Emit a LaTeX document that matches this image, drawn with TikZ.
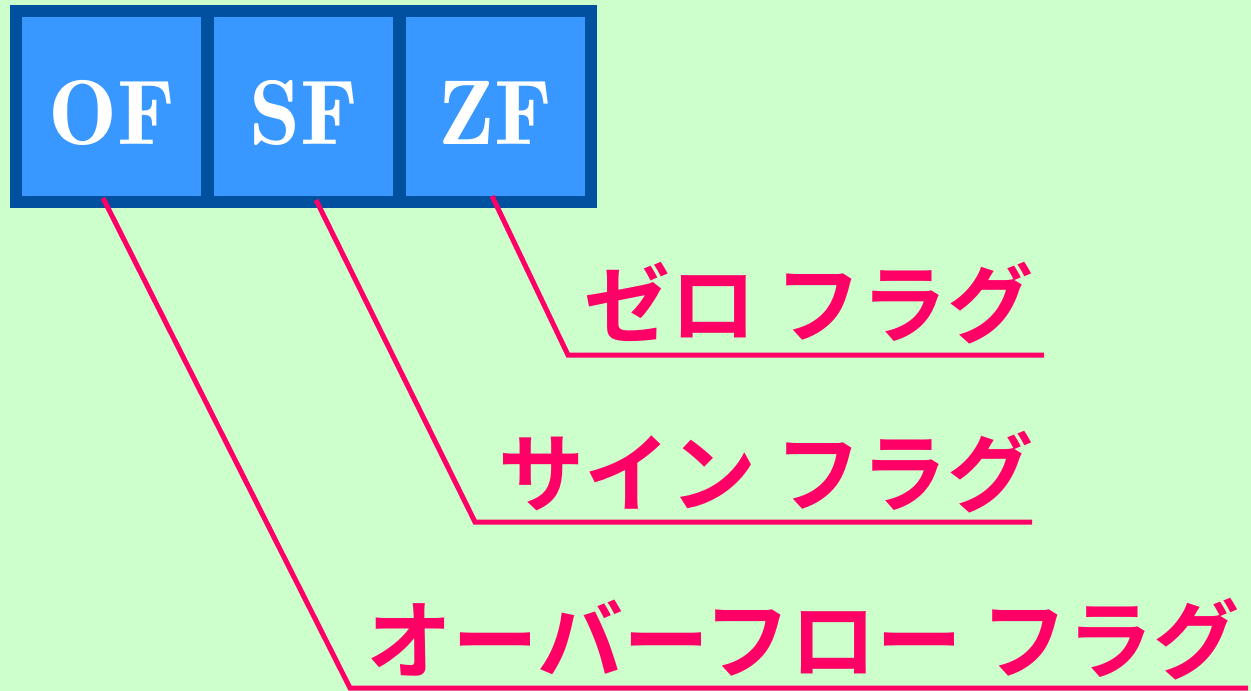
\documentclass[tikz,border=0pt]{standalone}
\usepackage{fontspec}
\newfontfamily\jpfont{Noto Sans CJK JP}[BoldFont={* Bold}]
\newfontfamily\demifont{lmromandemi10-regular.otf}
\usetikzlibrary{calc}
\definecolor{bggreen}{HTML}{CCFFCC}
\definecolor{cellblue}{HTML}{3898FF}
\definecolor{celledge}{HTML}{0050A0}
\definecolor{flagpink}{HTML}{FF0066}
\tikzset{
  cell/.style={draw=celledge, fill=cellblue, line width=12pt, minimum width=191pt, minimum height=191pt,
    inner sep=0pt, text=white, text height=76pt, text depth=0pt,
    font=\demifont\fontsize{92}{92}\selectfont},
  flaglabel/.style={anchor=base west, inner sep=0pt, text=flagpink, font=\jpfont\bfseries\fontsize{86}{86}\selectfont},
  leader/.style={draw=flagpink, line width=5pt, line join=miter}
}
\begin{document}
\begin{tikzpicture}[x=1pt,y=-1pt]
\fill[bggreen] (0,0) rectangle (1251,691);
\useasboundingbox (0,0) rectangle (1251,691);
\node[cell] (of) at (111.5,106.5) {OF};
\node[cell] (sf) at (303.5,106.5) {SF};
\node[cell] (zf) at (495.5,106.5) {ZF};
\node[flaglabel] (zft) at (584,336) {ゼロ フラグ};
\node[flaglabel] (sft) at (498,505) {サイン フラグ};
\node[flaglabel] (oft) at (366,672) {オーバーフロー フラグ};
\coordinate (zfc) at (568,355);
\coordinate (sfc) at (475,522);
\coordinate (ofc) at (350,688);
\coordinate (zfe) at (1044,355);
\coordinate (sfe) at (1032,522);
\coordinate (ofe) at (1248,688);
\draw[leader] ($(zf.south)+(-3.5,-12)$) -- (zfc) -- (zfe);
\draw[leader] ($(sf.south)+(12.5,-8)$) -- (sfc) -- (sfe);
\draw[leader] ($(of.south)+(-8.5,-10)$) -- (ofc) -- (ofe);
\end{tikzpicture}
\end{document}
